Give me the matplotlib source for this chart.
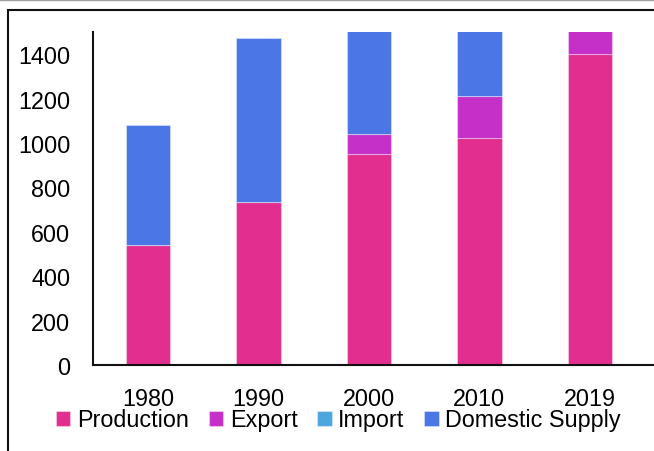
import matplotlib.pyplot as plt
import numpy as np
from matplotlib.patches import Rectangle
from matplotlib.lines import Line2D

years = ["1980", "1990", "2000", "2010", "2019"]
production = [539, 733, 949, 1021, 1403]
export = [0, 0, 90, 189, 300]
imports = [0, 0, 0, 0, 0]
domestic_supply = [542, 739, 900, 800, 1000]

colors = {
    "Production": "#E22E8E",
    "Export": "#C530C9",
    "Import": "#4EA6DE",
    "Domestic Supply": "#4A76E6",
}

plt.rcParams["font.family"] = ["Liberation Sans", "DejaVu Sans"]
plt.rcParams["font.size"] = 16.8

fig = plt.figure(figsize=(6.54, 4.52), dpi=100)

# outer frame, cut off at the right and bottom
fig.patches.append(Rectangle((8 / 654, -0.1), 1.2, 1 - 10.7 / 452 + 0.1,
                             transform=fig.transFigure, fill=False,
                             edgecolor="#111111", linewidth=1.5))
fig.lines.append(Line2D([0, 1], [1 - 0.5 / 452] * 2, transform=fig.transFigure,
                        color="#a0a0a0", linewidth=1.0))

ax = fig.add_axes([92.7 / 654, 1 - 366 / 452, 1 - 92.7 / 654, (366 - 33) / 452])

x = np.arange(len(years))
width = 0.4
bottom = np.zeros(len(years))
series = [("Production", production), ("Export", export),
          ("Import", imports), ("Domestic Supply", domestic_supply)]
for name, vals in series:
    vals = np.array(vals, dtype=float)
    ax.bar(x, vals, width, bottom=bottom, color=colors[name], label=name,
           edgecolor=(1, 1, 1, 0.35), linewidth=0.8)
    bottom += vals

ax.set_ylim(0, 1500)
ax.set_xlim(-0.5, 4.58)
ax.set_yticks(range(0, 1401, 200))
ax.set_xticks(x)
ax.set_xticklabels(years)
ax.tick_params(axis="y", length=0, pad=16)
ax.tick_params(axis="x", length=0, pad=15.5)

for side in ("top", "right"):
    ax.spines[side].set_visible(False)
for side in ("left", "bottom"):
    ax.spines[side].set_linewidth(1.5)
    ax.spines[side].set_color("#111111")

fig.legend(loc="center", bbox_to_anchor=(338.5 / 654, 1 - 421 / 452), ncol=4,
           frameon=False, handlelength=0.62, handleheight=0.62,
           handletextpad=0.28, columnspacing=0.85, borderaxespad=0,
           borderpad=0)

fig.savefig("out.png", dpi=100)
